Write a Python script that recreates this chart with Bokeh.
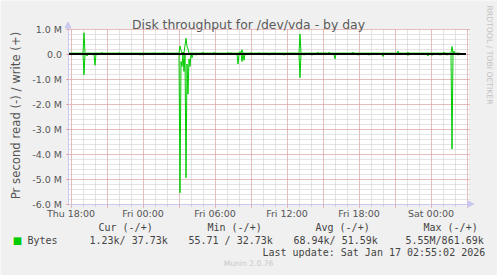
import math
import pandas as pd
from bokeh.plotting import figure
from bokeh.models import (FixedTicker, Label, Arrow, NormalHead, Range1d,
                          LinearAxis, Grid)
from bokeh.embed import file_html
from bokeh.resources import INLINE

# ---------------- data ----------------
t0 = pd.Timestamp("2026-01-15 18:00")          # Thu 18:00
data_start = "2026-01-15 17:45"
data_end = "2026-01-17 02:25"
last_update = "2026-01-17 02:55"

write_base = 0.035e6   # bytes/s, typical write level
read_base = 0.002e6    # bytes/s, typical read level

write_times = ["2026-01-15 19:05", "2026-01-15 20:35", "2026-01-15 22:00",
               "2026-01-16 00:55", "2026-01-16 01:45", "2026-01-16 03:05",
               "2026-01-16 03:10", "2026-01-16 03:20", "2026-01-16 03:30",
               "2026-01-16 03:35", "2026-01-16 03:40", "2026-01-16 03:45",
               "2026-01-16 05:00", "2026-01-16 05:55", "2026-01-16 07:05",
               "2026-01-16 07:20", "2026-01-16 08:05", "2026-01-16 08:15",
               "2026-01-16 09:00", "2026-01-16 09:40", "2026-01-16 10:55",
               "2026-01-16 12:15", "2026-01-16 13:05", "2026-01-16 13:50",
               "2026-01-16 14:35", "2026-01-16 14:50", "2026-01-16 15:10",
               "2026-01-16 15:30", "2026-01-16 15:50", "2026-01-16 16:45",
               "2026-01-16 17:30", "2026-01-16 21:15", "2026-01-16 22:05",
               "2026-01-17 01:05", "2026-01-17 01:45", "2026-01-17 01:55"]
write_vals = [0.85e6, 0.06e6, 0.05e6,
              0.05e6, 0.05e6, 0.32e6,
              0.15e6, 0.08e6, 0.35e6,
              0.63e6, 0.30e6, 0.20e6,
              0.07e6, 0.06e6, 0.06e6,
              0.05e6, 0.10e6, 0.17e6,
              0.05e6, 0.05e6, 0.05e6,
              0.04e6, 0.80e6, 0.04e6,
              0.07e6, 0.05e6, 0.05e6,
              0.07e6, 0.04e6, 0.04e6,
              0.07e6, 0.12e6, 0.07e6,
              0.07e6, 0.30e6, 0.12e6]

read_times = ["2026-01-15 19:05", "2026-01-15 19:20", "2026-01-15 20:00",
              "2026-01-15 23:05", "2026-01-15 23:45", "2026-01-16 00:00",
              "2026-01-16 00:55", "2026-01-16 03:05", "2026-01-16 03:10",
              "2026-01-16 03:15", "2026-01-16 03:25", "2026-01-16 03:35",
              "2026-01-16 03:40", "2026-01-16 03:45", "2026-01-16 03:50",
              "2026-01-16 03:55", "2026-01-16 04:05", "2026-01-16 04:25",
              "2026-01-16 07:55", "2026-01-16 08:15", "2026-01-16 08:25",
              "2026-01-16 10:30", "2026-01-16 11:45", "2026-01-16 13:05",
              "2026-01-16 13:25", "2026-01-16 14:05", "2026-01-16 16:00",
              "2026-01-16 17:55", "2026-01-16 18:20", "2026-01-16 18:50",
              "2026-01-16 19:05", "2026-01-16 20:00", "2026-01-16 22:05",
              "2026-01-16 23:45", "2026-01-17 00:05", "2026-01-17 00:45",
              "2026-01-17 01:20", "2026-01-17 01:45", "2026-01-17 02:15"]
read_vals = [0.83e6, 0.08e6, 0.45e6,
             0.04e6, 0.05e6, 0.05e6,
             0.03e6, 5.55e6, 0.30e6,
             0.50e6, 0.70e6, 4.95e6,
             0.40e6, 1.60e6, 0.20e6,
             0.50e6, 0.15e6, 0.05e6,
             0.40e6, 0.30e6, 0.25e6,
             0.05e6, 0.05e6, 0.95e6,
             0.05e6, 0.05e6, 0.20e6,
             0.05e6, 0.04e6, 0.05e6,
             0.04e6, 0.10e6, 0.06e6,
             0.08e6, 0.06e6, 0.05e6,
             0.05e6, 3.80e6, 0.05e6]

x_tick_hours = [0, 6, 12, 18, 24, 30]
x_tick_labels = ["Thu 18:00", "Fri 00:00", "Fri 06:00", "Fri 12:00", "Fri 18:00", "Sat 00:00"]
y_tick_vals = [-6e6, -5e6, -4e6, -3e6, -2e6, -1e6, 0, 1e6]
y_tick_labels = ["-6.0 M", "-5.0 M", "-4.0 M", "-3.0 M", "-2.0 M", "-1.0 M", "0.0", "1.0 M"]

legend_headers = ["Cur (-/+)", "Min (-/+)", "Avg (-/+)", "Max (-/+)"]
legend_values = ["1.23k/ 37.73k", "55.71 / 32.73k", "68.94k/ 51.59k", "5.55M/861.69k"]
series_name = "Bytes"
title_text = "Disk throughput for /dev/vda - by day"
ylabel_text = "Pr second read (-) / write (+)"
update_text = "Last update: Sat Jan 17 02:55:02 2026"
munin_text = "Munin 2.0.76"
rrd_text = "RRDTOOL / TOBI OETIKER"

# --------------- build series on the 5-minute grid ---------------
idx = pd.date_range(data_start, data_end, freq="5min")
write_s = pd.Series(write_base, index=idx)
read_s = pd.Series(read_base, index=idx)
for t, v in zip(write_times, write_vals):
    write_s[pd.Timestamp(t)] = v
for t, v in zip(read_times, read_vals):
    read_s[pd.Timestamp(t)] = v

hours = ((idx - t0) / pd.Timedelta(hours=1)).to_numpy()
x_start_h = (pd.Timestamp(data_start) - t0) / pd.Timedelta(hours=1)
x_upd_h = (pd.Timestamp(last_update) - t0) / pd.Timedelta(hours=1)

# --------------- geometry (canvas px) ---------------
W, H = 497, 275
FL, FT, FW, FH = 67, 28, 401, 175      # plot area left/top/width/height
px_per_h = 12.0
px_per_M = 25.0
y_top, y_bot = 1.0e6, -6.0e6
x_left = -3.0 / px_per_h                # left edge of plot area (Thu 17:45)
x_right = x_left + FW / px_per_h
# canvas-wide ranges (half-pixel shift keeps 1px grid lines crisp)
xr = Range1d(x_left - (FL + 0.5) / px_per_h, x_left + (W - FL - 0.5) / px_per_h)
yr = Range1d(y_bot - (H - FT - FH - 0.5) / px_per_M * 1e6,
             y_top + (FT + 0.5) / px_per_M * 1e6)

p = figure(width=W, height=H, output_backend="svg", toolbar_location=None,
           title=None, x_range=xr, y_range=yr,
           x_axis_location=None, y_axis_location=None,
           min_border=0, min_border_left=0, min_border_right=0,
           min_border_top=0, min_border_bottom=0,
           background_fill_color="#f0f0f0", border_fill_color="#f0f0f0")
p.outline_line_color = None
p.center = []

# white plot area
p.quad(left=x_left, right=x_right, bottom=y_bot, top=y_top,
       fill_color="white", line_color=None, level="image")

# tickers
x_ticker = FixedTicker(ticks=list(range(0, 34, 3)), minor_ticks=list(range(0, 34)))
y_ticker = FixedTicker(ticks=y_tick_vals,
                       minor_ticks=[y_bot + i * 0.2e6 for i in range(36)])

# axes pinned at the plot-area edges
xaxis = LinearAxis(ticker=x_ticker, fixed_location=y_bot, bounds=(x_left, x_right))
overrides = {h: "" for h in range(0, 34, 3)}
for h, lab_ in zip(x_tick_hours, x_tick_labels):
    overrides[h] = lab_
xaxis.major_label_overrides = overrides
yaxis = LinearAxis(ticker=y_ticker, fixed_location=x_left, bounds=(y_bot, y_top))
yaxis.major_label_overrides = {v: l for v, l in zip(y_tick_vals, y_tick_labels)}

for ax in (xaxis, yaxis):
    ax.axis_line_color = "#c8c8f0"
    ax.major_label_text_font = "DejaVu Sans"
    ax.major_label_text_font_size = "9.5px"
    ax.major_label_text_color = "#555555"
    ax.major_tick_in = 0
    ax.minor_tick_in = 0
xaxis.major_tick_out = 3
xaxis.major_tick_line_color = "#e89090"
xaxis.minor_tick_out = 2
xaxis.minor_tick_line_color = "#c8c8c8"
xaxis.major_label_standoff = 1
yaxis.major_tick_out = 2
yaxis.major_tick_line_color = "#e89090"
yaxis.minor_tick_out = 0
yaxis.minor_tick_line_color = None
yaxis.major_label_standoff = 4
p.add_layout(xaxis, "below")
p.add_layout(yaxis, "left")

# grids limited to the plot area
xgrid = Grid(dimension=0, ticker=x_ticker, bounds=(x_left, x_right),
             cross_bounds=(y_bot, y_top))
ygrid = Grid(dimension=1, ticker=y_ticker, bounds=(y_bot, y_top),
             cross_bounds=(x_left, x_right))
for g in (xgrid, ygrid):
    g.grid_line_color = "#e89494"
    g.grid_line_dash = "1 1"
    g.minor_grid_line_color = "#c8c8c8"
    g.minor_grid_line_dash = "1 1"
    p.add_layout(g, "center")

# data lines
p.line(hours, write_s.to_numpy(), line_color="#00cc00", line_width=1)
p.line(hours, -read_s.to_numpy(), line_color="#00cc00", line_width=1)
p.line([x_start_h, x_upd_h], [0, 0], line_color="black", line_width=2)

# axis arrows
ac = "#c8c8f0"
p.add_layout(Arrow(end=NormalHead(size=6, fill_color=ac, line_color=ac),
                   x_start=x_left, y_start=y_top, x_end=x_left, y_end=y_top + 0.28e6,
                   line_color=ac, line_width=1))
p.add_layout(Arrow(end=NormalHead(size=6, fill_color=ac, line_color=ac),
                   x_start=x_right, y_start=y_bot, x_end=x_right + 0.4, y_end=y_bot,
                   line_color=ac, line_width=1))


def lab(text, cx, cy, size, color="#555555", font="DejaVu Sans", align="left",
        baseline="middle", angle=0.0):
    p.add_layout(Label(x=cx, y=H - cy, x_units="screen", y_units="screen",
                       text=text, text_font=font, text_font_size=size,
                       text_color=color, text_align=align, text_baseline=baseline,
                       angle=angle))


lab(title_text, 248, 24, "12.4px", color="#5a5a5a", align="center", baseline="alphabetic")
lab(ylabel_text, 15, 115, "11.7px", align="center", angle=math.pi / 2)
lab(rrd_text, 489, 5, "7.7px", color="#c4c4c4", align="left", angle=-math.pi / 2)

mono = "DejaVu Sans Mono"
for txt, x in zip(legend_headers, [98, 207, 315, 423]):
    lab(txt, x, 227, "10px", color="#444444", font=mono)
lab("\u25a0", 17, 240, "10px", color="#00cc00", align="center")
lab(series_name, 27, 240, "10px", color="#444444", font=mono)
for txt, x in zip(legend_values, [89, 188, 293, 405]):
    lab(txt, x, 240, "10px", color="#444444", font=mono)
lab(update_text, 262, 252, "10px", color="#444444", font=mono)
lab(munin_text, 248, 263, "7.6px", color="#c8c8c8", align="center")

open("out.html", "w").write(file_html(p, INLINE))
